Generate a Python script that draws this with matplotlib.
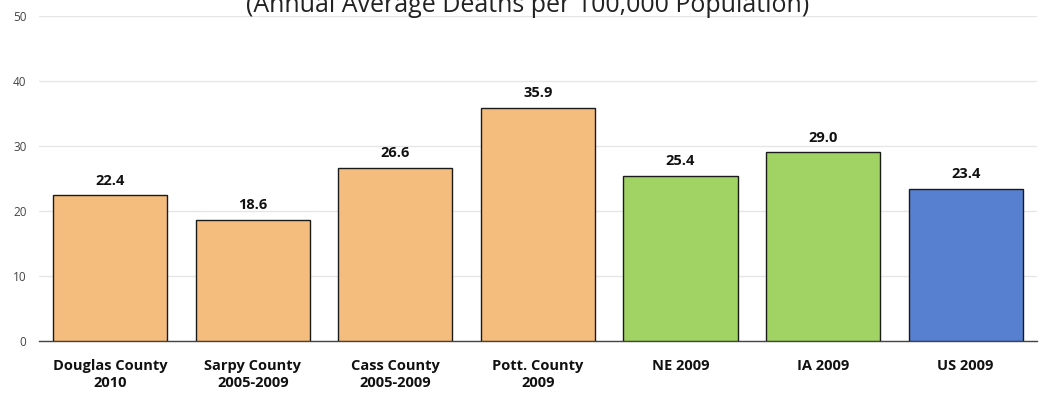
import matplotlib.pyplot as plt

categories = ["Douglas County\n2010", "Sarpy County\n2005-2009", "Cass County\n2005-2009",
              "Pott. County\n2009", "NE 2009", "IA 2009", "US 2009"]
values = [22.4, 18.6, 26.6, 35.9, 25.4, 29.0, 23.4]
colors = ["#F4BD7D", "#F4BD7D", "#F4BD7D", "#F4BD7D", "#A1D264", "#A1D264", "#5780D0"]

plt.rcParams['font.family'] = ['Open Sans', 'DejaVu Sans']

fig = plt.figure(figsize=(10.4, 3.93), dpi=100)
ax = fig.add_axes([0.0375, 0.1323, 0.9595, 0.827])

x = range(len(categories))
ax.bar(x, values, width=0.8, color=colors, edgecolor="#1a1a1a", linewidth=1.0, zorder=3)

for i, v in zip(x, values):
    ax.text(i, v + 1.2, f"{v:.1f}", ha="center", va="bottom", fontsize=10.5,
            fontweight="bold", color="#111111")

ax.set_xlim(-0.5, len(categories) - 0.5)
ax.set_ylim(0, 50)
ax.set_yticks(range(0, 51, 10))
ax.grid(axis="y", color="#e6e6e6", linewidth=1.0, zorder=0)
ax.set_axisbelow(True)

for s in ["top", "right", "left"]:
    ax.spines[s].set_visible(False)
ax.spines["bottom"].set_color("#444444")
ax.spines["bottom"].set_linewidth(1.0)

ax.set_xticks(list(x))
ax.set_xticklabels(categories, fontsize=10.5, fontweight="bold", color="#111111", linespacing=1.3)
ax.tick_params(axis="x", length=0, pad=13)
ax.tick_params(axis="y", length=0, labelsize=8.5, labelcolor="#444444", pad=9)

# title sits partly above the top edge, as in the source image
fig.text(0.507, 0.969, "(Annual Average Deaths per 100,000 Population)", ha="center",
         va="baseline", fontsize=18, color="#222222")

fig.savefig("out.png", dpi=100)
